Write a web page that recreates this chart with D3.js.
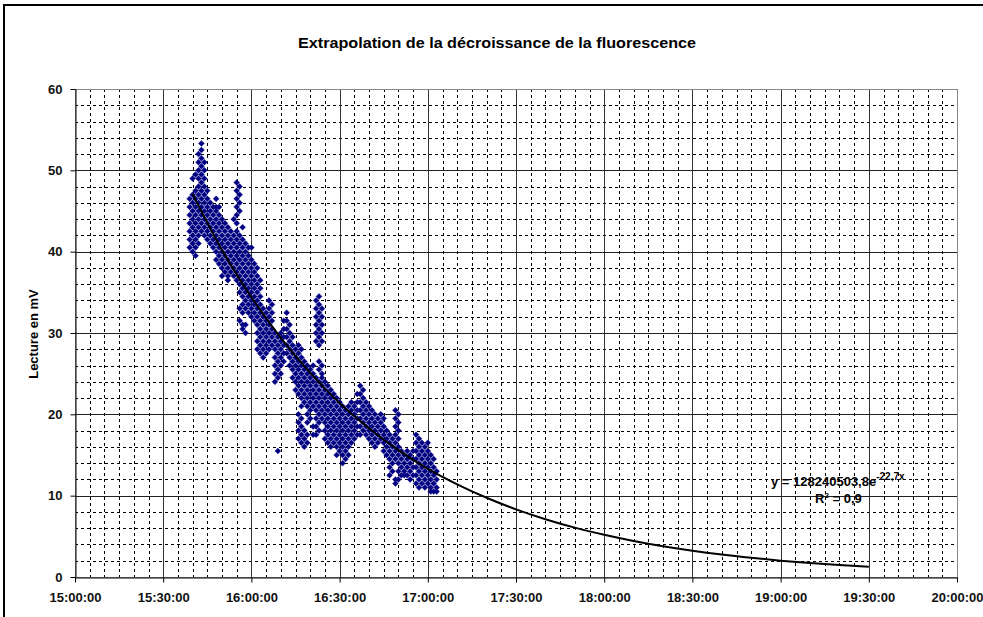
<!DOCTYPE html>
<html>
<head>
<meta charset="utf-8">
<script src="https://cdn.jsdelivr.net/npm/d3@7"></script>
<style>
  body { margin: 0; background: #fff; }
  svg { display: block; font-family: "Liberation Sans", Arial, sans-serif; }
</style>
</head>
<body>
<script>
// minutes after 15:00 for each sampled column of readings
var sampleMinutes = [39,40,41,42,43,44,45,46,47,48,49,50,51,52,53,54,55,56,57,58,59,60,61,62,63,64,65,66,67,68,69,70,71,72,73,74,75,76,77,78,79,80,81,82,83,84,85,86,87,88,89,90,91,92,93,94,95,96,97,98,99,100,101,102,103,104,105,106,107,108,109,110,111,112,113,114,115,116,117,118,119,120,121,122,123];

// readings (mV) taken in each of those minutes
var sampleReadings = [
  [46.5,45.5,44.5,43.5,42.5,41.5,40.5],
  [49,47,46,45,44,43,42,41,40],
  [49.5,47.5,46.5,45.5,44.5,43.5,42.5,41.5,40.5,39.5],
  [52,51,50,49,48,47,46,45,44,43,42,41],
  [53.3,52.5,51.5,50.5,49.5,48.5,47.5,46.5,45.5,44.5,43.5,42.5],
  [51,50,49,48,47,46,45,44,43,42],
  [47.5,46.5,45.5,44.5,43.5,42.5,41.5],
  [46,45,44,43,42,41],
  [45.5,44.5,43.5,42.5,41.5,40.5],
  [46.5,45.5,45,44,43,42,41,40,39],
  [45.5,44.5,43.5,42.5,41.5,40.5,39.5,38.5],
  [44,43,42,41,40,39,38,37],
  [43.5,42.5,41.5,40.5,39.5,38.5,37.5],
  [43,42,41,40,39,38,37,36.5],
  [42.5,41.5,40.5,39.5,38.5,37.5],
  [44,42,41,40,39,38,37],
  [48.5,47.5,46.5,45.5,44.5,43.5,42.5,41.5,40.5,39.5,38.5,37.5,36.5],
  [48,47,46,45,42,41,40,39,38,37,36,35,33,31.5],
  [43,41.5,40.5,39.5,38.5,37.5,36.5,35.5,34.5,33.5,32.5,31,30.5],
  [41,40,39,38,37,36,35,34,33,31,30],
  [40.5,39.5,38.5,37.5,36.5,35.5,34.5,33.5,32.5],
  [40.5,39,38,37,36,35,34,33,32],
  [38.5,37.5,36.5,35.5,34.5,33.5,32.5,31.5],
  [38,37,36,35,34,33,32,31,30,29,28],
  [36.5,35.5,34.5,33.5,32.5,31.5,30.5,29.5,28.5,27.5],
  [33,32,31,30,29,28,27],
  [32.5,31.5,30.5,29.5,28.5,27.5],
  [34,33,32,31,30,29,28],
  [33.5,32.5,31.5,30.5,29.5,28.5],
  [30,29,28,27,26,25,24],
  [29.5,28.5,27.5,26.5,25.5,24.5,15.5],
  [30,29,28,27,26,25],
  [31.5,30.5,29.5,28.5,27.5,26.5],
  [32.5,31.5,30.5,29.5,28.5,27.5],
  [31,30,29,28,27,26],
  [29.5,28.5,27.5,26.5,25.5,24.5],
  [28,27,26,25,24,23],
  [28.5,27.5,26.5,25.5,24.5,23.5,22.5,20,19,18,17],
  [28,27,26,25,24,23,22,21,19.5,18.5,17.5,16.5],
  [26.5,25.5,24.5,23.5,22.5,21.5,18,17,16],
  [26,25,24,23,22,21,20,19,17.5,16.5],
  [25.5,24.5,23.5,22.5,21.5,20.5,19.5],
  [26,25,24,23,22,21,18.5,17.5],
  [34,33,32,31,30,29,24.5,23.5,22.5,21.5,20.5,19.5,18.5,17.5],
  [34.5,33.5,32.5,31.5,30.5,29.5,28.5,26.5,25.5,24,23,22,21,20,19,18],
  [33,32,31,30,29,26,25,24.5,23.5,22.5,21.5,20.5,19.5],
  [24,23,22,21,20,19,18,17],
  [23.5,22.5,21.5,20.5,19.5,18.5,17.5,16.5],
  [23,22,21,20,19,18,17,16],
  [22.5,21.5,20.5,19.5,18.5,17.5,16.5],
  [22,21,20,19,18,17,16,15],
  [21.5,20.5,19.5,18.5,17.5,16.5,15.5],
  [21,20,19,18,17,16,15,14],
  [20.5,19.5,18.5,17.5,16.5,15.5,14.5],
  [21,20,19,18,17,16,15],
  [21.5,20.5,19.5,18.5,17.5,16.5],
  [21,20,19,18,17],
  [22.5,21.5,20.5,19.5,18.5,17.5],
  [23.5,22.5,21.5,20.5,19.5,18.5,17.5],
  [23,22,21,20,19,18],
  [21.5,20.5,19.5,18.5,17.5],
  [21,20,19,18,17],
  [20.5,19.5,18.5,17.5,16.5],
  [20,19,18,17,16],
  [19.5,18.5,17.5,16.5],
  [20,19,18,17],
  [19.5,18.5,17.5,16.5,15.5],
  [18,17,16,15],
  [17.5,16.5,15.5,14.5,13.5,12.5],
  [17,16,15,14,13],
  [20.5,19.5,18.5,17.5,16.5,15.5,14.5,12,11.5],
  [20,19,18,17,16,15,14,13,12],
  [15.5,14.5,13.5,12.5],
  [15,14,13,12.5],
  [15.5,14.5,13.5,12.5],
  [15,14,13,12],
  [15.5,14.5,13.5,12.5],
  [17.5,16.5,15.5,14.5,13.5,12.5,11.5],
  [17,16,15,14,13,12,11],
  [16.5,15.5,14.5,13.5,12.5,11.5],
  [16,15,14,13,12,11],
  [16.5,15.5,14.5,13.5,12.5,11.5],
  [15,14,13,12,11,10.5],
  [14.5,13.5,12.5,11.5,10.5],
  [13,12,11,10.5]
];

// exponential trend line (minutes after 15:00, mV)
var trendMinutes = [40,50,60,70,80,90,100,110,120,130,140,150,160,170,180,190,200,210,220,230,240,250,260,270];
var trendValues = [47.1,40.2,34.4,29.4,25.1,21.4,18.3,15.6,13.3,11.4,9.74,8.32,7.11,6.07,5.19,4.43,3.78,3.23,2.76,2.36,2.01,1.72,1.47,1.26];

var yTicks = [0,10,20,30,40,50,60];
var xTickMinutes = [0,30,60,90,120,150,180,210,240,270,300];

var chartTitle = "Extrapolation de la décroissance de la fluorescence";
var yTitle = "Lecture en mV";

var W = 983, H = 617;
var plotL = 75, plotR = 957, plotT = 89, plotB = 577;

var base = new Date(2000, 0, 1, 15, 0, 0);
function atMinute(m) { return new Date(base.getTime() + m * 60000); }

var x = d3.scaleTime().domain([atMinute(0), atMinute(300)]).range([plotL, plotR]);
var y = d3.scaleLinear().domain([0, 60]).range([plotB, plotT]);
var fmt = d3.timeFormat("%H:%M:%S");

var svg = d3.select("body").append("svg").attr("width", W).attr("height", H);

// outer chart frame (runs off the right and bottom)
svg.append("path").attr("d", "M4,640V5H1000")
   .attr("fill", "none").attr("stroke", "#000").attr("stroke-width", 2);

svg.append("text").attr("x", 497).attr("y", 48).attr("text-anchor", "middle")
   .attr("font-size", 15).attr("font-weight", "bold")
   .attr("textLength", 398).attr("lengthAdjust", "spacingAndGlyphs").text(chartTitle);

// grid
var grid = svg.append("g");
var minorX = d3.range(5, 300, 5).filter(function(d) { return d % 30 != 0; });
var minorY = d3.range(2, 60, 2).filter(function(d) { return d % 10 != 0; });

grid.selectAll(".mx").data(minorX).enter().append("line")
    .attr("x1", function(d) { return Math.round(x(atMinute(d))) + 0.5; })
    .attr("x2", function(d) { return Math.round(x(atMinute(d))) + 0.5; })
    .attr("y1", plotT).attr("y2", plotB)
    .attr("stroke", "#000").attr("stroke-dasharray", "3,3");
grid.selectAll(".my").data(minorY).enter().append("line")
    .attr("y1", function(d) { return Math.round(y(d)) + 0.5; })
    .attr("y2", function(d) { return Math.round(y(d)) + 0.5; })
    .attr("x1", plotL).attr("x2", plotR)
    .attr("stroke", "#000").attr("stroke-dasharray", "3,3");
grid.selectAll(".Mx").data(xTickMinutes.slice(1, -1)).enter().append("line")
    .attr("x1", function(d) { return Math.round(x(atMinute(d))) + 0.5; })
    .attr("x2", function(d) { return Math.round(x(atMinute(d))) + 0.5; })
    .attr("y1", plotT).attr("y2", plotB)
    .attr("stroke", "#333");
grid.selectAll(".My").data(yTicks.slice(1, -1)).enter().append("line")
    .attr("y1", function(d) { return Math.round(y(d)) + 0.5; })
    .attr("y2", function(d) { return Math.round(y(d)) + 0.5; })
    .attr("x1", plotL).attr("x2", plotR)
    .attr("stroke", "#222");

svg.append("rect").attr("x", plotL + 0.5).attr("y", plotT + 0.5)
   .attr("width", plotR - plotL).attr("height", plotB - plotT)
   .attr("fill", "none").attr("stroke", "#888");

// axes
var xAxis = svg.append("g").attr("transform", "translate(0," + (plotB + 0.5) + ")")
    .call(d3.axisBottom(x).tickValues(xTickMinutes.map(atMinute)).tickFormat(fmt)
          .tickSize(5).tickSizeOuter(0).tickPadding(10));
var yAxis = svg.append("g").attr("transform", "translate(" + (plotL + 0.5) + ",0)")
    .call(d3.axisLeft(y).tickValues(yTicks).tickSize(5).tickSizeOuter(0).tickPadding(8));

[xAxis, yAxis].forEach(function(a) {
  a.select(".domain").attr("stroke", "#000");
  a.selectAll(".tick line").attr("stroke", "#000");
  a.selectAll("text").attr("font-family", "Liberation Sans, Arial, sans-serif")
   .attr("font-size", 13).attr("font-weight", "bold").attr("fill", "#111");
});

svg.append("text").attr("transform", "translate(38,334) rotate(-90)")
   .attr("text-anchor", "middle").attr("font-size", 13).attr("font-weight", "bold")
   .text(yTitle);

// points
var points = [];
sampleMinutes.forEach(function(m, i) {
  sampleReadings[i].forEach(function(v) { points.push({ t: atMinute(m), v: v }); });
});

svg.append("g").selectAll("path").data(points).enter().append("path")
   .attr("d", "M0,-3L3,0L0,3L-3,0Z")
   .attr("transform", function(d) { return "translate(" + x(d.t) + "," + y(d.v) + ")"; })
   .attr("fill", "#000080").attr("stroke", "#1a1a9a").attr("stroke-width", 0.4);

// trend line
var trend = trendMinutes.map(function(m, i) { return { t: atMinute(m), v: trendValues[i] }; });
svg.append("path").datum(trend)
   .attr("d", d3.line().x(function(d) { return x(d.t); }).y(function(d) { return y(d.v); })
          .curve(d3.curveMonotoneX))
   .attr("fill", "none").attr("stroke", "#000").attr("stroke-width", 2);

// trend equation
var eq = svg.append("text").attr("x", 771).attr("y", 486)
   .attr("font-size", 13).attr("font-weight", "bold");
eq.append("tspan").text("y = 128240503,8e");
eq.append("tspan").attr("dy", -6).attr("font-size", 10).text("-22,7x");

var r2 = svg.append("text").attr("x", 815).attr("y", 503)
   .attr("font-size", 13).attr("font-weight", "bold");
r2.append("tspan").text("R");
r2.append("tspan").attr("dy", -5).attr("font-size", 8).text("2");
r2.append("tspan").attr("dy", 5).text(" = 0,9");
</script>
</body>
</html>
